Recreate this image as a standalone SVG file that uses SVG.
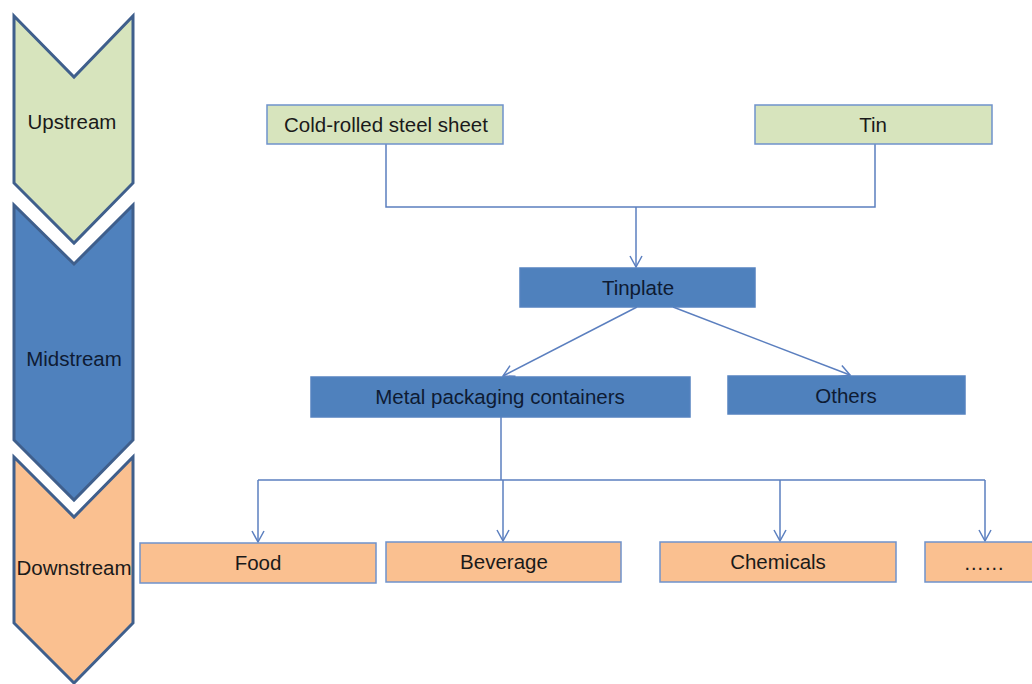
<svg xmlns="http://www.w3.org/2000/svg" width="1032" height="684" viewBox="0 0 1032 684">
<defs>
<style>
.chev{stroke:#3F5F8C;stroke-width:3;stroke-linejoin:miter}
.box{stroke:#6F92CB;stroke-width:1.5}
.g{fill:#D7E4BD}
.b{fill:#4F81BD;stroke:#5583C0}
.o{fill:#FAC090}
.t{font-family:"Liberation Sans",Arial,sans-serif;font-size:20.5px;fill:#1a1a1a;text-anchor:middle;dominant-baseline:central}
.tb{fill:#0E1B33}
.c{fill:none;stroke:#5B7FBF;stroke-width:1.5}
</style>
<marker id="arr" markerWidth="14" markerHeight="14" refX="12" refY="7" orient="auto" markerUnits="userSpaceOnUse">
<path d="M1,1 L12,7 L1,13" fill="none" stroke="#5B7FBF" stroke-width="1.5"/>
</marker>
</defs>
<rect width="1032" height="684" fill="#fff"/>
<g id="stage-upstream">
<path class="chev" fill="#D7E4BD" d="M14,16 L74,77 L133,16 L133,183 L74,243 L14,183 Z"/>
<text class="t" x="72" y="121">Upstream</text>
</g>
<g id="stage-midstream">
<path class="chev" fill="#4F81BD" d="M14,205 L74,264 L133,205 L133,440 L74,500 L14,440 Z"/>
<text class="t tb" x="74" y="358">Midstream</text>
</g>
<g id="stage-downstream">
<path class="chev" fill="#FAC090" d="M14,457 L74,517 L133,457 L133,623 L74,683 L14,623 Z"/>
<text class="t" x="74" y="567">Downstream</text>
</g>
<g id="connectors">
<path class="c" d="M386,144 V207 H875 V144"/>
<path class="c" d="M636,207 V267" marker-end="url(#arr)"/>
<path class="c" d="M637,307 L503,376" marker-end="url(#arr)"/>
<path class="c" d="M673,307 L850,375" marker-end="url(#arr)"/>
<path class="c" d="M501,417 V480"/>
<path class="c" d="M258,480 H985"/>
<path class="c" d="M258,480 V542" marker-end="url(#arr)"/>
<path class="c" d="M503,480 V541" marker-end="url(#arr)"/>
<path class="c" d="M780,480 V541" marker-end="url(#arr)"/>
<path class="c" d="M985,480 V541" marker-end="url(#arr)"/>
</g>
<g id="node-cold-rolled">
<rect class="box g" x="267" y="105" width="236" height="39"/>
<text class="t" x="386" y="124">Cold-rolled steel sheet</text>
</g>
<g id="node-tin">
<rect class="box g" x="755" y="105" width="237" height="39"/>
<text class="t" x="873" y="124">Tin</text>
</g>
<g id="node-tinplate">
<rect class="box b" x="520" y="268" width="235" height="39"/>
<text class="t tb" x="638" y="287">Tinplate</text>
</g>
<g id="node-metal">
<rect class="box b" x="311" y="377" width="379" height="40"/>
<text class="t tb" x="500" y="396">Metal packaging containers</text>
</g>
<g id="node-others">
<rect class="box b" x="728" y="376" width="237" height="38"/>
<text class="t tb" x="846" y="395">Others</text>
</g>
<g id="node-food">
<rect class="box o" x="140" y="543" width="236" height="40"/>
<text class="t" x="258" y="562">Food</text>
</g>
<g id="node-beverage">
<rect class="box o" x="386" y="542" width="235" height="40"/>
<text class="t" x="504" y="561">Beverage</text>
</g>
<g id="node-chemicals">
<rect class="box o" x="660" y="542" width="236" height="40"/>
<text class="t" x="778" y="561">Chemicals</text>
</g>
<g id="node-more">
<rect class="box o" x="925" y="542" width="110" height="40"/>
<text class="t" x="984" y="562">……</text>
</g>
</svg>
